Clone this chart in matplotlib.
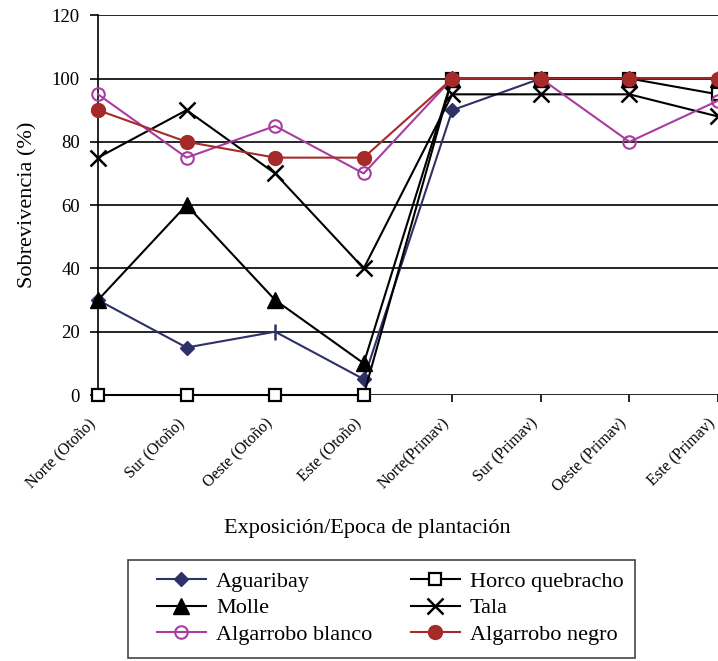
import numpy as np
import matplotlib
matplotlib.use('Agg')
import matplotlib.pyplot as plt
import matplotlib.transforms as mtransforms
from matplotlib.patches import Rectangle

plt.rcParams['font.family'] = ['Liberation Serif', 'DejaVu Serif']

categorias = ['Norte (Otoño)', 'Sur (Otoño)', 'Oeste (Otoño)', 'Este (Otoño)',
              'Norte(Primav)', 'Sur (Primav)', 'Oeste (Primav)', 'Este (Primav)']

aguaribay = [30, 15, 20, 5, 90, 100, 100, 100]
horco = [0, 0, 0, 0, 100, 100, 100, 95]
molle = [30, 60, 30, 10, 100, 100, 100, 100]
tala = [75, 90, 70, 40, 95, 95, 95, 88]
blanco = [95, 75, 85, 70, 100, 100, 80, 93]
negro = [90, 80, 75, 75, 100, 100, 100, 100]

x = np.arange(len(categorias))

fig = plt.figure(figsize=(7.18, 6.61), dpi=100)
ax = fig.add_axes([0.1365, 0.4024, 0.8635, 0.5746])

lw = 1.5
azul = '#2e3068'
# en el original el punto de Oeste (Otoño) de Aguaribay sale como una raya vertical
ax.plot(x, aguaribay, color=azul, marker='D', ms=7, lw=lw, label='Aguaribay', zorder=3,
        clip_on=False, markevery=[0, 1, 3, 4, 5, 6, 7])
ax.plot(x[2], aguaribay[2], color=azul, marker='|', ms=12, mew=1.8, zorder=3)
ax.plot(x, horco, color='black', marker='s', ms=9, mfc='white', mec='black', mew=1.6, lw=lw,
        label='Horco quebracho', zorder=3, clip_on=False)
ax.plot(x, molle, color='black', marker='^', ms=11, lw=lw, label='Molle', zorder=3, clip_on=False)
ax.plot(x, tala, color='black', marker='x', ms=11, mew=1.8, lw=lw, label='Tala', zorder=3,
        clip_on=False)
ax.plot(x, blanco, color='#a83ca0', marker='o', ms=9, mfc='none', mew=1.5, lw=lw,
        label='Algarrobo blanco', zorder=3, clip_on=False)
ax.plot(x, negro, color='#a52a2a', marker='o', ms=10, lw=lw, label='Algarrobo negro', zorder=3,
        clip_on=False)

ax.set_xlim(0, 6.99)
ax.set_ylim(0, 120)
ax.set_yticks(np.arange(0, 121, 20))
ax.yaxis.grid(True, color='black', lw=1.2)
ax.set_axisbelow(True)
for s in ['top', 'right', 'bottom']:
    ax.spines[s].set_visible(False)
ax.spines['left'].set_linewidth(1.2)
ax.tick_params(axis='y', labelsize=13.5, length=6, width=1.2, direction='out', pad=7)
ax.tick_params(axis='x', labelsize=11.5, length=5, width=1.2, direction='out')

ax.set_xticks(x)
ax.set_xticklabels(categorias, rotation=45, ha='right', va='center', rotation_mode='anchor')
off = mtransforms.ScaledTranslation(-0.05, -0.14, fig.dpi_scale_trans)
for lab in ax.get_xticklabels():
    lab.set_transform(lab.get_transform() + off)

ax.set_ylabel('Sobrevivencia (%)', fontsize=16, labelpad=10)
fig.text(0.511, 0.2, 'Exposición/Epoca de plantación', fontsize=16, ha='center', va='center')

h, l = ax.get_legend_handles_labels()
order = [0, 2, 4, 1, 3, 5]
leg = fig.legend([h[i] for i in order], [l[i] for i in order], ncol=2,
                 loc='upper left', bbox_to_anchor=(0.2187, 0.1362),
                 fontsize=16, frameon=False, handlelength=2.2, labelspacing=0.28,
                 borderaxespad=0, borderpad=0, handletextpad=0.45, columnspacing=1.75)
fig.patches.append(Rectangle((0.1783, 0.0045), 0.7061, 0.1483, transform=fig.transFigure,
                             fill=False, edgecolor='#444444', lw=1.2))

fig.savefig('out.png', dpi=100)
